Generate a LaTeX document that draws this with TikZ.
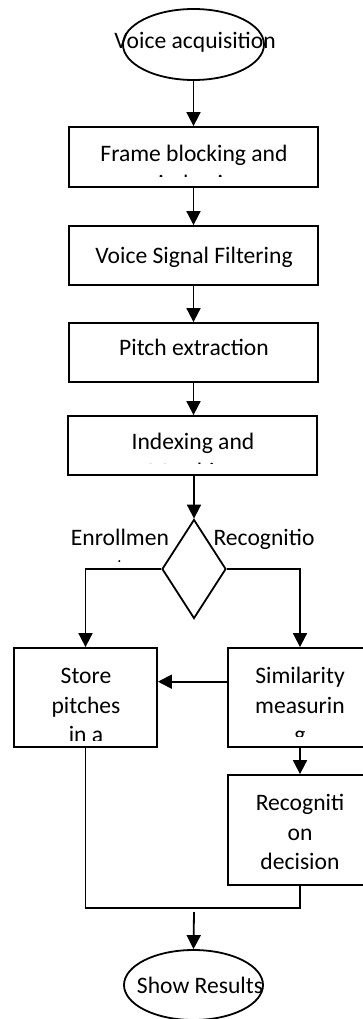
\documentclass[tikz,border=0pt]{standalone}
\usepackage{fontspec}
\setmainfont{Carlito}
\usetikzlibrary{arrows.meta,shapes.geometric,calc}
\begin{document}
\begin{tikzpicture}[x=1pt,y=-1pt, line width=1.8pt,
  box/.style={draw, rectangle, inner sep=0pt, line width=1.8pt},
  oval/.style={draw, ellipse, inner sep=0pt, line width=1.8pt},
  txt/.style={inner sep=0pt, align=center, anchor=north, font=\fontsize{23.6}{29.3}\selectfont},
  arr/.style={-{Triangle[width=14pt,length=14pt]}},
]
\useasboundingbox (0,0) rectangle (363,1019);
\clip (0,0) rectangle (363,1019);

% start
\node[oval, minimum width=141pt, minimum height=71pt] (v) at (193.5,44.5) {};
\node[inner sep=0pt, anchor=base, font=\fontsize{23.6}{29.3}\selectfont] (vt) at (195,49) {Voice acquisition};

% process boxes
\node[box, minimum width=249pt, minimum height=60pt] (fb) at (193.5,157) {};
\begin{scope}
\clip (69,127) rectangle (318,176.5);
\node[txt] (fbt) at (194,140.5) {\strut Frame blocking and\\windowing};
\end{scope}

\node[box, minimum width=249pt, minimum height=59pt] (vsf) at (193.5,255.5) {};
\node[txt] (vsft) at (194,242) {\strut Voice Signal Filtering};

\node[box, minimum width=249pt, minimum height=59pt] (pe) at (193.5,352.5) {};
\node[txt] (pet) at (194,334.5) {\strut Pitch extraction};

\node[box, minimum width=249pt, minimum height=59pt] (ix) at (192.5,445.5) {};
\begin{scope}
\clip (68,416) rectangle (317,463);
\node[txt] (ixt) at (193,428.5) {\strut Indexing and\\Matching};
\end{scope}

% decision
\node[draw, diamond, minimum width=64pt, minimum height=99pt, inner sep=0pt] (d) at (194,569) {};
\begin{scope}
\clip (0,500) rectangle (363,561);
\node[txt] (en) at (120,524.5) {\strut Enrollmen\\t};
\node[txt] (rc) at (264,524.5) {\strut Recognitio\\n};
\end{scope}

% branches
\node[box, minimum width=143pt, minimum height=99pt] (st) at (85.5,697.5) {};
\begin{scope}
\clip (14,648) rectangle (157,740);
\node[txt] (stt) at (86,662.5) {\strut Store\\pitches\\in a\\database};
\end{scope}

\node[box, minimum width=144pt, minimum height=99pt] (sm) at (300,697.5) {};
\begin{scope}
\clip (228,648) rectangle (372,736);
\node[txt] (smt) at (300,662.5) {\strut Similarity\\measurin\\g};
\end{scope}

\node[box, minimum width=144pt, minimum height=110pt] (rd) at (300,830) {};
\node[txt] (rdt) at (300,789.5) {\strut Recogniti\\on\\decision};

% end
\node[oval, minimum width=139pt, minimum height=70pt] (sr) at (193.5,985) {};
\node[inner sep=0pt, anchor=base, font=\fontsize{23.6}{29.3}\selectfont] (srt) at (200,993) {Show Results};

\coordinate (j) at (194,908);
\coordinate (j2) at (194,912);

% connectors
\draw[arr] (v.south) -- (fb.north);
\draw[arr] (fb.south) -- (vsf.north);
\draw[arr] (vsf.south) -- (pe.north);
\draw[arr] (pe.south) -- (pe.south |- ix.north);
\draw[arr] (d.north |- ix.south) -- (d.north);
\draw[arr] (d.west) -| (st.north);
\draw[arr] (d.east) -| (sm.north);
\draw[arr] ($(sm.north west)!0.343!(sm.south west)$) -- ($(st.north east)!0.343!(st.south east)$);
\draw[arr] (sm.south) -- (rd.north);
\draw (st.south) |- (j) -| (rd.south);
\draw[arr] (j2) -- (sr.north);
\end{tikzpicture}
\end{document}
